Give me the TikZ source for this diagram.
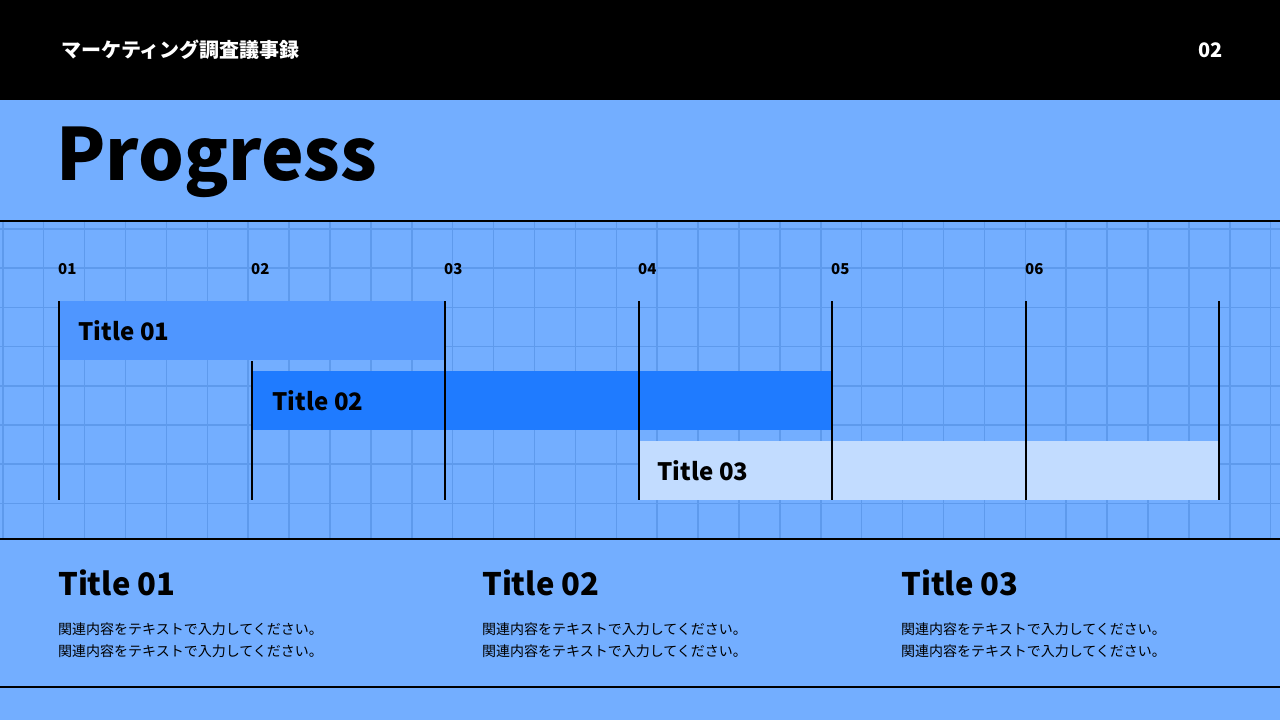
\documentclass[tikz,border=0pt]{standalone}
\usepackage{fontspec}
\setmainfont{Noto Sans CJK JP}
\newfontfamily\jpb{Noto Sans CJK JP}[BoldFont={* Bold}]
\definecolor{bg}{HTML}{73AEFF}
\definecolor{gridc}{HTML}{5E9AEC}
\definecolor{barA}{HTML}{4F96FF}
\definecolor{barB}{HTML}{1F7BFF}
\definecolor{barC}{HTML}{C2DCFF}
\tikzset{
  bar/.style={anchor=north west,inner sep=0pt,minimum height=59pt},
  bartext/.style={anchor=west,font=\fontsize{24}{28}\selectfont\bfseries},
  tick/.style={anchor=west,inner sep=0pt,font=\fontsize{15}{18}\selectfont\bfseries},
  vline/.style={line width=2pt,black},
  hline/.style={line width=2pt,black},
  btitle/.style={anchor=west,inner sep=0pt,font=\fontsize{31}{36}\selectfont\bfseries},
  body/.style={anchor=north west,inner sep=0pt,align=left,font=\fontsize{14}{22}\selectfont}
}
\begin{document}
\begin{tikzpicture}[x=1pt,y=-1pt]
\useasboundingbox (0,0) rectangle (1280,720);
\fill[bg] (0,0) rectangle (1280,720);
\fill[black] (0,0) rectangle (1280,100);
\node[anchor=west,text=white,font=\fontsize{20}{24}\selectfont\bfseries] (hdr) at (58,50) {マーケティング調査議事録};
\node[anchor=east,text=white,font=\fontsize{20}{24}\selectfont\bfseries] (pg) at (1226,50) {02};
\node[anchor=west,inner sep=0pt,font=\fontsize{72}{80}\selectfont\bfseries] (prog) at (56,162) {Progress};
% grid
\begin{scope}
\clip (0,222) rectangle (1280,538);
\foreach \i in {0,...,31} \draw[gridc,line width=1.5pt] (2.8+\i*40.9,222) -- (2.8+\i*40.9,538);
\foreach \j in {0,...,8} \draw[gridc,line width=1.5pt] (0,229+\j*39.2) -- (1280,229+\j*39.2);
\end{scope}
\draw[hline] (0,221) -- (1280,221);
\draw[hline] (0,539) -- (1280,539);
\draw[hline] (0,687) -- (1280,687);
% bars
\node[bar,fill=barA,minimum width=386pt] (b1) at (59,301) {};
\node[bar,fill=barB,minimum width=580pt] (b2) at (252,371) {};
\node[bar,fill=barC,minimum width=580pt] (b3) at (639,441) {};
\node[bartext] at ([xshift=16pt]b1.west) {Title 01};
\node[bartext] at ([xshift=17pt]b2.west) {Title 02};
\node[bartext] at ([xshift=15pt]b3.west) {Title 03};
\foreach \x/\t in {59/01,252/02,445/03,639/04,832/05,1026/06}
  \node[tick] at (\x-1,269) {\t};
\foreach \x in {59,252,445,639,832,1026,1219}
  \coordinate (t\x) at (\x,301);
\foreach \x in {59,445,639,832,1026,1219} \draw[vline] (\x,301) -- (\x,500);
\draw[vline] (252,361) -- (252,500);
% bottom
\foreach \x/\t in {58/01,482/02,901/03}{
  \node[btitle] at (\x,583) {Title \t};
  \node[body] at (\x,623) {関連内容をテキストで入力してください。\\関連内容をテキストで入力してください。};
}
\end{tikzpicture}
\end{document}
